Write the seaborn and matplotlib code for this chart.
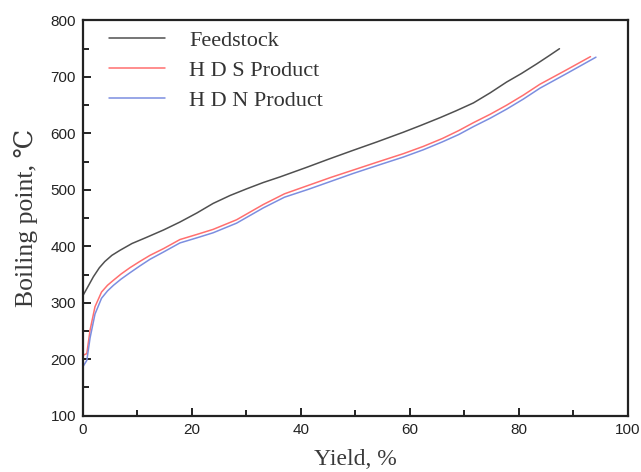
import matplotlib
matplotlib.use("Agg")
import matplotlib.pyplot as plt
from matplotlib.ticker import MultipleLocator
import numpy as np
import pandas as pd
import seaborn as sns

# Distillation curves: yield (%) vs boiling point (°C)
feed_yield = [0, 0.7, 1.9, 3.0, 4.0, 5.3, 6.8, 9.0, 11.7, 14.8, 17.8, 20.9,
              23.9, 27.0, 30.1, 33.1, 36.2, 41.1, 45.0, 49.6, 54.0, 58.8,
              62.0, 65.6, 68.5, 71.7, 74.8, 77.8, 80.5, 83.3, 85.5, 87.5]
feed_bp = [313, 325, 346, 362, 373, 384, 393, 405, 416, 429, 443, 459,
           476, 490, 502, 513, 523, 540, 554, 570, 585, 602,
           614, 628, 640, 654, 672, 691, 706, 723, 737, 750]

hds_yield = [0, 0.7, 1.3, 2.2, 3.4, 4.5, 5.6, 7.0, 8.6, 10.4, 12.3, 14.8,
             17.8, 20.9, 23.9, 28.2, 33.1, 37.0, 41.4, 45.5, 49.6, 54.0,
             58.8, 62.5, 66.0, 69.0, 71.7, 74.8, 77.8, 80.9, 83.9, 88.5, 93.2]
hds_bp = [207, 210, 252, 293, 319, 331, 340, 351, 362, 373, 384, 396,
          412, 421, 430, 447, 474, 493, 508, 522, 535, 549,
          564, 577, 591, 605, 619, 634, 650, 668, 687, 711, 736]

hdn_yield = [0, 0.7, 1.3, 2.2, 3.4, 4.5, 5.6, 7.0, 8.6, 10.4, 12.3, 14.8,
             17.8, 20.9, 23.9, 28.2, 33.1, 37.0, 41.4, 45.5, 49.6, 54.0,
             58.8, 62.5, 66.0, 69.0, 71.7, 74.8, 77.8, 80.9, 83.9, 89.0, 94.2]
hdn_bp = [187, 198, 238, 280, 308, 321, 331, 342, 353, 365, 377, 390,
          406, 415, 424, 441, 468, 487, 501, 515, 529, 543,
          558, 571, 585, 598, 612, 627, 643, 661, 680, 707, 735]

series_names = ["Feedstock", "H D S Product", "H D N Product"]
series_colors = ["#505050", "#ff6f6f", "#7c8ee0"]

frames = []
for name, xs, ys in zip(series_names,
                        [feed_yield, hds_yield, hdn_yield],
                        [feed_bp, hds_bp, hdn_bp]):
    frames.append(pd.DataFrame({"Yield": xs, "BP": ys, "Sample": name,
                                "order": np.arange(len(xs))}))
df = pd.concat(frames, ignore_index=True)

sns.set_theme(style="ticks")
plt.rcParams["font.family"] = ["Liberation Sans", "DejaVu Sans"]

fig = plt.figure(figsize=(6.41, 4.72), dpi=100)
ax = fig.add_axes([0.1295, 0.1193, 0.8495, 0.8373])

sns.lineplot(data=df, x="Yield", y="BP", hue="Sample", units="Sample",
             estimator=None, sort=False,
             palette=dict(zip(series_names, series_colors)),
             hue_order=series_names, linewidth=1.1, ax=ax)

ax.set_xlim(0, 100)
ax.set_ylim(100, 800)
ax.xaxis.set_major_locator(MultipleLocator(20))
ax.xaxis.set_minor_locator(MultipleLocator(10))
ax.yaxis.set_major_locator(MultipleLocator(100))
ax.yaxis.set_minor_locator(MultipleLocator(50))

for sp in ax.spines.values():
    sp.set_linewidth(1.6)
    sp.set_color("#222222")
ax.tick_params(which="both", direction="in", top=False, right=False,
               colors="#222222", labelcolor="#222222", labelsize=11, width=1.4)
ax.tick_params(which="major", length=6, pad=5)
ax.tick_params(which="minor", length=4)

serif = ["Liberation Serif", "DejaVu Serif", "Noto Sans CJK SC"]
ax.set_xlabel("Yield, %", family=serif, fontsize=17, color="#3a3a3a", labelpad=9)
ax.set_ylabel("Boiling point, ℃", family=serif, fontsize=18.5, color="#3a3a3a",
              labelpad=9)

leg = ax.legend(loc="upper left", bbox_to_anchor=(0.036, 0.991), frameon=False,
                handlelength=2.5, handletextpad=1.1, borderaxespad=0.0,
                borderpad=0.3, labelspacing=0.42,
                prop={"family": serif, "size": 16})
for t in leg.get_texts():
    t.set_color("#333333")

fig.savefig("out.png", dpi=100)
